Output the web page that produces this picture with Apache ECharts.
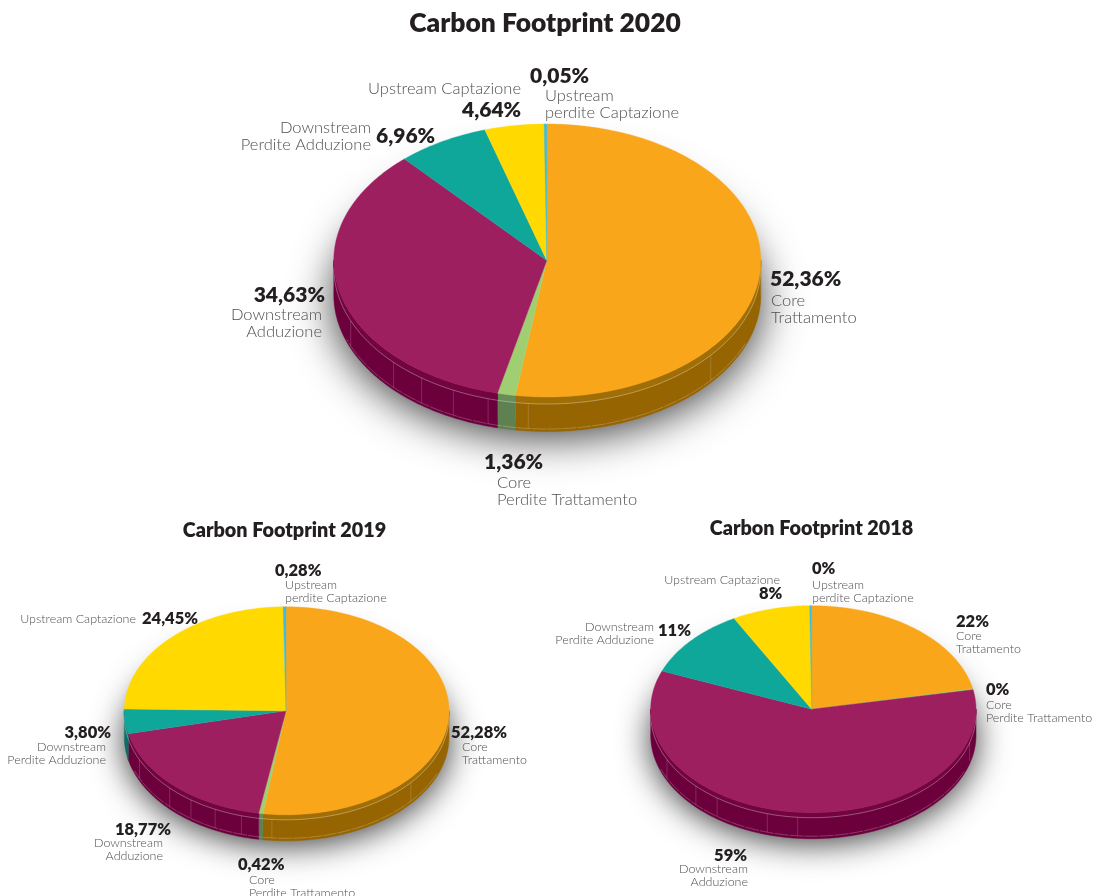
<!DOCTYPE html>
<html><head><meta charset="utf-8">
<style>html,body{margin:0;padding:0;background:#fff;overflow:hidden}#c{width:1093px;height:896px}</style>
<script src="https://cdn.jsdelivr.net/npm/echarts@6/dist/echarts.min.js"></script>
</head><body><div id="c"></div>
<script>
// ---------- data ----------
const sliceNames = [
  ['Core','Trattamento'],
  ['Core','Perdite Trattamento'],
  ['Downstream','Adduzione'],
  ['Downstream','Perdite Adduzione'],
  ['Upstream Captazione'],
  ['Upstream','perdite Captazione']
];
const values2020 = [52.36, 1.36, 34.63, 6.96, 4.64, 0.05];
const values2019 = [52.28, 0.42, 18.77, 3.80, 24.45, 0.28];
const values2018 = [22, 0, 59, 11, 8, 0];
const titles = ['Carbon Footprint 2020','Carbon Footprint 2019','Carbon Footprint 2018'];

// ---------- style & layout ----------
const topColors  = ['#F9A61B','#A0CF72','#9E1F5F','#10A79B','#FFD900','#3CBBE6'];
const bandColors = ['#A06E06','#6A8C56','#72043F','#0C7C74','#B89C00','#2A8CB0'];
const wallColors = ['#966400','#5F8050','#6C003D','#0B6E67','#A88E00','#24809F'];
const FONT_BOLD = 'Lato', FONT_LIGHT = 'Lato';
const MIN_SWEEP = 0.7;

const pies = [
  { values: values2020, decimals: 2, cx: 546.8, cy: 260.5, rxL: 213, rxR: 214, ry: 136.5, depth: 34.5, band: 7,
    seams: [130,185,196,206,216,226,247], boldSize: 21, lightSize: 16.5, lineGap: 16.5,
    titleX: 540, titleY: 21.5, titleSize: 26.4,
    boldAnchors: [[770,279,'left'],[484,462,'left'],[325,295,'right'],[376,136,'left'],[462,110,'left'],[530,76,'left']],
    nameAnchors: [[771,301,'left'],[497,483,'left'],[322,315,'right'],[371,128,'right'],[521,89,'right'],[545,96,'left']] },
  { values: values2019, decimals: 2, cx: 286, cy: 710.8, rxL: 161.7, rxR: 163, ry: 104, depth: 26, band: 5,
    seams: [130,185,196,206,216,226,245], boldSize: 16.5, lightSize: 12.5, lineGap: 12.5,
    titleX: 279.5, titleY: 527.5, titleSize: 19.8,
    boldAnchors: [[451,733,'left'],[238,865,'left'],[171,830,'right'],[111,733,'right'],[142,619,'left'],[275,571,'left']],
    nameAnchors: [[462,747,'left'],[249,880,'left'],[163,843,'right'],[106,747,'right'],[136,619,'right'],[285,585,'left']] },
  { values: values2018, decimals: 0, cx: 811.7, cy: 709.2, rxL: 161, rxR: 164.3, ry: 103.5, depth: 26, band: 5,
    seams: [106,185,196,216,226,244], boldSize: 16.5, lightSize: 12.5, lineGap: 12.5,
    titleX: 806.5, titleY: 525.5, titleSize: 19.8,
    boldAnchors: [[956,622,'left'],[986,690,'left'],[747,856,'right'],[658,631,'left'],[759,594,'left'],[812,569,'left']],
    nameAnchors: [[956,636,'left'],[986,705,'left'],[748,869,'right'],[654,627,'right'],[780,580,'right'],[812,585,'left']] }
];

// ---------- geometry helpers ----------
const rad = d => d * Math.PI / 180;
const pt = (p, deg, off) => {
  const s = Math.sin(rad(deg));
  return [p.cx + (s < 0 ? p.rxL : p.rxR) * s, p.cy - p.ry * Math.cos(rad(deg)) + off];
};
function arc(p, a0, a1, off) {
  const n = Math.max(2, Math.ceil(Math.abs(a1 - a0) / 1.0)), out = [];
  for (let i = 0; i <= n; i++) out.push(pt(p, a0 + (a1 - a0) * i / n, off));
  return out;
}
function spans(values) {
  const total = values.reduce((s, v) => s + v, 0);
  let acc = 0;
  return values.map(v => {
    const from = acc; acc += v / total * 360;
    const end = acc;
    return [end - from < MIN_SWEEP ? end - MIN_SWEEP : from, end];
  });
}

function pieSeries(p) {
  const s = spans(p.values);
  const shadow = {
    type: 'custom', coordinateSystem: 'none', silent: true, z: 1, data: [0],
    renderItem: () => ({
      type: 'polygon',
      shape: { points: arc(p, 0, 360, p.depth * 0.75) },
      style: { fill: '#ffffff', shadowBlur: p.rxR * 0.2, shadowColor: 'rgba(0,0,0,0.78)', shadowOffsetY: p.depth * 0.42 }
    })
  };
  const walls = {
    type: 'custom', coordinateSystem: 'none', silent: true, z: 2, data: p.values,
    renderItem: (params) => {
      const i = params.dataIndex;
      const a = Math.max(s[i][0], 90), b = Math.min(s[i][1], 270);
      if (b <= a) return { type: 'group', children: [] };
      const wall = arc(p, a, b, 0).concat(arc(p, b, a, p.depth));
      const band = arc(p, a, b, 0).concat(arc(p, b, a, p.band));
      return { type: 'group', children: [
        { type: 'polygon', shape: { points: wall }, style: { fill: wallColors[i], stroke: wallColors[i], lineWidth: 0.5 } },
        { type: 'polygon', shape: { points: band }, style: { fill: bandColors[i], stroke: bandColors[i], lineWidth: 0.5 } }
      ]};
    }
  };
  const rims = {
    type: 'custom', coordinateSystem: 'none', silent: true, z: 3, data: [0],
    renderItem: () => {
      const ch = [
        { type: 'polyline', shape: { points: arc(p, 90, 270, p.band) }, style: { fill: null, stroke: 'rgba(255,255,255,0.36)', lineWidth: 0.9 } },
        { type: 'polyline', shape: { points: arc(p, 112, 250, p.depth - 2.5) }, style: { fill: null, stroke: 'rgba(255,255,255,0.28)', lineWidth: 0.8, lineDash: [14, 1] } }
      ];
      p.seams.forEach(a => {
        const u = pt(p, a, p.band), v = pt(p, a, p.depth - 2.5);
        ch.push({ type: 'line', shape: { x1: u[0], y1: u[1], x2: v[0], y2: v[1] }, style: { stroke: 'rgba(255,255,255,0.16)', lineWidth: 1 } });
      });
      return { type: 'group', children: ch };
    }
  };
  const tops = {
    type: 'custom', coordinateSystem: 'none', silent: true, z: 4, data: p.values,
    renderItem: (params) => {
      const i = params.dataIndex;
      return {
        type: 'polygon',
        shape: { points: [[p.cx, p.cy]].concat(arc(p, s[i][0], s[i][1], 0)) },
        style: { fill: topColors[i], stroke: topColors[i], lineWidth: 0.4 }
      };
    }
  };
  return [shadow, walls, rims, tops];
}

function fmt(v, d) { return v.toFixed(d).replace('.', ',') + '%'; }

function pieText(p) {
  const out = [];
  p.values.forEach((v, i) => {
    const b = p.boldAnchors[i], n = p.nameAnchors[i];
    out.push({ type: 'text', x: b[0], y: b[1], z: 10, style: {
      text: fmt(v, p.decimals), align: b[2], verticalAlign: 'middle', fill: '#231F20',
      font: '800 ' + p.boldSize + 'px ' + FONT_BOLD } });
    sliceNames[i].forEach((line, k) => {
      out.push({ type: 'text', x: n[0], y: n[1] + k * p.lineGap, z: 10, style: {
        text: line, align: n[2], verticalAlign: 'middle', fill: '#505050',
        font: '300 ' + p.lightSize + 'px ' + FONT_LIGHT } });
    });
  });
  return out;
}

const chart = echarts.init(document.getElementById('c'), null, { renderer: 'canvas' });
chart.setOption({
  animation: false,
  backgroundColor: '#ffffff',
  title: pies.map((p, i) => ({
    text: titles[i], left: p.titleX, top: p.titleY - p.titleSize * 0.62, textAlign: 'center',
    textStyle: { fontFamily: FONT_BOLD, fontWeight: 800, fontSize: p.titleSize, color: '#231F20' }
  })),
  series: pies.flatMap(pieSeries),
  graphic: { elements: pies.flatMap(pieText) }
});
</script></body></html>
